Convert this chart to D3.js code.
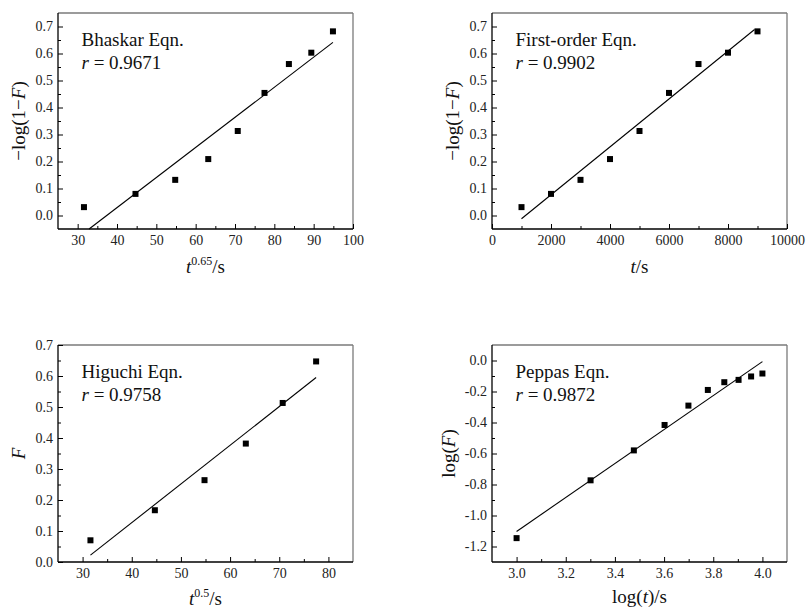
<!DOCTYPE html>
<html>
<head>
<meta charset="utf-8">
<script src="https://cdn.jsdelivr.net/npm/d3@7"></script>
<style>
  html, body { margin: 0; padding: 0; background: #fff; }
  svg, svg text { font-family: "Liberation Serif", "Times New Roman", "DejaVu Serif", serif; }
</style>
</head>
<body>
<svg id="chart" width="806" height="612"></svg>
<script>
// ---------- data ----------
const bhaskarX = [31.6, 44.7, 54.8, 63.2, 70.7, 77.5, 83.7, 89.4, 94.9];
const bhaskarY = [0.031, 0.080, 0.132, 0.209, 0.313, 0.454, 0.561, 0.603, 0.682];
const bhaskarFit = [[32.9, -0.05], [94.9, 0.641]];

const firstX = [1000, 2000, 3000, 4000, 5000, 6000, 7000, 8000, 9000];
const firstY = [0.031, 0.080, 0.132, 0.209, 0.313, 0.454, 0.561, 0.603, 0.682];
const firstFit = [[1000, -0.012], [8900, 0.689]];

const higuchiX = [31.6, 44.7, 54.8, 63.2, 70.7, 77.5];
const higuchiY = [0.070, 0.167, 0.264, 0.382, 0.513, 0.647];
const higuchiFit = [[31.6, 0.022], [77.5, 0.595]];

const peppasX = [3.0, 3.301, 3.477, 3.602, 3.699, 3.778, 3.845, 3.903, 3.954, 4.0];
const peppasY = [-1.146, -0.773, -0.580, -0.416, -0.291, -0.190, -0.140, -0.125, -0.103, -0.084];
const peppasFit = [[3.0, -1.103], [4.0, -0.007]];

const panelNames = ["Bhaskar Eqn.", "First-order Eqn.", "Higuchi Eqn.", "Peppas Eqn."];
const panelR = ["0.9671", "0.9902", "0.9758", "0.9872"];

const ticks1X = [30, 40, 50, 60, 70, 80, 90, 100];
const ticks1Y = [0.0, 0.1, 0.2, 0.3, 0.4, 0.5, 0.6, 0.7];
const ticks2X = [0, 2000, 4000, 6000, 8000, 10000];
const ticks3X = [30, 40, 50, 60, 70, 80];
const ticks3Y = [0.0, 0.1, 0.2, 0.3, 0.4, 0.5, 0.6, 0.7];
const ticks4X = [3.0, 3.2, 3.4, 3.6, 3.8, 4.0];
const ticks4Y = [-1.2, -1.0, -0.8, -0.6, -0.4, -0.2, 0.0];

// ---------- drawing ----------
const FONT = "'Liberation Serif', 'Times New Roman', 'DejaVu Serif', serif";
const svg = d3.select("#chart");

function range(a, b, step) {
  const out = [];
  const n = Math.round((b - a) / step);
  for (let i = 0; i <= n; i++) out.push(+(a + i * step).toFixed(6));
  return out;
}
const fmt1 = v => d3.format(".1f")(v).replace("\u2212", "-");

function panel(cfg) {
  const g = svg.append("g");
  const x = d3.scaleLinear().domain(cfg.xDomain).range([cfg.left, cfg.right]);
  const y = d3.scaleLinear().domain(cfg.yDomain).range([cfg.bottom, cfg.top]);

  // frame: top & right gray
  g.append("line").attr("x1", cfg.left).attr("x2", cfg.right).attr("y1", cfg.top).attr("y2", cfg.top)
    .attr("stroke", "#7a7a7a").attr("stroke-width", 1.3);
  g.append("line").attr("x1", cfg.right).attr("x2", cfg.right).attr("y1", cfg.top).attr("y2", cfg.bottom)
    .attr("stroke", "#7a7a7a").attr("stroke-width", 1.3);

  // minor ticks
  g.append("g").attr("transform", `translate(0,${cfg.bottom})`)
    .call(d3.axisBottom(x).tickValues(cfg.xMinor).tickSize(-3).tickSizeOuter(0).tickFormat(""))
    .call(s => s.select(".domain").remove())
    .selectAll("line").attr("stroke", "#000");
  g.append("g").attr("transform", `translate(${cfg.left},0)`)
    .call(d3.axisLeft(y).tickValues(cfg.yMinor).tickSize(-3).tickSizeOuter(0).tickFormat(""))
    .call(s => s.select(".domain").remove())
    .selectAll("line").attr("stroke", "#000");

  // major axes
  const xa = g.append("g").attr("transform", `translate(0,${cfg.bottom})`)
    .call(d3.axisBottom(x).tickValues(cfg.xTicks).tickSize(-5).tickSizeOuter(0).tickPadding(6)
      .tickFormat(cfg.xFormat));
  xa.attr("font-family", null).attr("font-size", null);
  xa.select(".domain").remove();
  xa.selectAll("line").attr("stroke", "#000");
  xa.selectAll("text").style("font-family", FONT).style("font-size", "14px").attr("fill", "#222");

  const ya = g.append("g").attr("transform", `translate(${cfg.left},0)`)
    .call(d3.axisLeft(y).tickValues(cfg.yTicks).tickSize(-5).tickSizeOuter(0).tickPadding(5)
      .tickFormat(fmt1));
  ya.attr("font-family", null).attr("font-size", null);
  ya.select(".domain").remove();
  ya.selectAll("line").attr("stroke", "#000");
  ya.selectAll("text").style("font-family", FONT).style("font-size", "14px").attr("fill", "#222");

  // left & bottom axis lines (black)
  g.append("line").attr("x1", cfg.left).attr("x2", cfg.left).attr("y1", cfg.top).attr("y2", cfg.bottom)
    .attr("stroke", "#000").attr("stroke-width", 1.3);
  g.append("line").attr("x1", cfg.left).attr("x2", cfg.right).attr("y1", cfg.bottom).attr("y2", cfg.bottom)
    .attr("stroke", "#000").attr("stroke-width", 1.6);

  // fit line
  g.append("path").datum(cfg.fit)
    .attr("d", d3.line().x(d => x(d[0])).y(d => y(d[1])))
    .attr("fill", "none").attr("stroke", "#000").attr("stroke-width", 1.1);

  // points
  const pts = cfg.xs.map((v, i) => [v, cfg.ys[i]]);
  g.selectAll("rect.pt").data(pts).join("rect").attr("class", "pt")
    .attr("x", d => x(d[0]) - 3).attr("y", d => y(d[1]) - 3)
    .attr("width", 6).attr("height", 6).attr("fill", "#000");

  // annotation text
  g.append("text").attr("x", cfg.left + 23.5).attr("y", cfg.top + 32.5)
    .style("font-family", FONT).style("font-size", "19px").attr("fill", "#111").text(cfg.name);
  const rt = g.append("text").attr("x", cfg.left + 23.5).attr("y", cfg.top + 55.5)
    .style("font-family", FONT).style("font-size", "19px").attr("fill", "#111");
  rt.append("tspan").attr("font-style", "italic").text("r");
  rt.append("tspan").text(" = " + cfg.r);

  // x title
  const xt = g.append("text").attr("x", (cfg.left + cfg.right) / 2).attr("y", cfg.xTitleY)
    .attr("text-anchor", "middle").style("font-family", FONT).style("font-size", "19px").attr("fill", "#111");
  cfg.xTitle(xt);

  // y title
  const yt = g.append("text")
    .attr("transform", `translate(${cfg.yTitleX},${(cfg.top + cfg.bottom) / 2}) rotate(-90)`)
    .attr("text-anchor", "middle").style("font-family", FONT).style("font-size", "19px").attr("fill", "#111");
  cfg.yTitle(yt);
}

function negLogTitle(t) {
  t.append("tspan").text("\u2212log(1\u2212");
  t.append("tspan").attr("font-style", "italic").text("F");
  t.append("tspan").text(")");
}
function powTitle(exp) {
  return t => {
    t.append("tspan").attr("font-style", "italic").text("t");
    t.append("tspan").style("font-size", "12px").attr("dy", -8).text(exp);
    t.append("tspan").attr("dy", 8).text("/s");
  };
}

panel({
  left: 58, right: 353, top: 13, bottom: 229,
  xDomain: [25, 100], yDomain: [-0.05, 0.75],
  xTicks: ticks1X, yTicks: ticks1Y,
  xMinor: range(35, 95, 10), yMinor: range(0.05, 0.65, 0.1),
  xFormat: d3.format("d"),
  xs: bhaskarX, ys: bhaskarY, fit: bhaskarFit,
  name: panelNames[0], r: panelR[0],
  xTitleY: 273, yTitleX: 25,
  xTitle: powTitle("0.65"), yTitle: negLogTitle
});

panel({
  left: 492, right: 787, top: 13, bottom: 229,
  xDomain: [0, 10000], yDomain: [-0.05, 0.75],
  xTicks: ticks2X, yTicks: ticks1Y,
  xMinor: range(1000, 9000, 2000), yMinor: range(0.05, 0.65, 0.1),
  xFormat: d3.format("d"),
  xs: firstX, ys: firstY, fit: firstFit,
  name: panelNames[1], r: panelR[1],
  xTitleY: 273, yTitleX: 459,
  xTitle: t => { t.append("tspan").attr("font-style", "italic").text("t"); t.append("tspan").text("/s"); },
  yTitle: negLogTitle
});

panel({
  left: 58, right: 353, top: 345, bottom: 562,
  xDomain: [25, 85], yDomain: [0, 0.7],
  xTicks: ticks3X, yTicks: ticks3Y,
  xMinor: range(35, 75, 10), yMinor: range(0.05, 0.65, 0.1),
  xFormat: d3.format("d"),
  xs: higuchiX, ys: higuchiY, fit: higuchiFit,
  name: panelNames[2], r: panelR[2],
  xTitleY: 605, yTitleX: 25,
  xTitle: powTitle("0.5"),
  yTitle: t => { t.append("tspan").attr("font-style", "italic").text("F"); }
});

panel({
  left: 492, right: 787, top: 345, bottom: 562,
  xDomain: [2.9, 4.1], yDomain: [-1.3, 0.1],
  xTicks: ticks4X, yTicks: ticks4Y,
  xMinor: range(3.1, 3.9, 0.2), yMinor: range(-1.1, -0.1, 0.2),
  xFormat: fmt1,
  xs: peppasX, ys: peppasY, fit: peppasFit,
  name: panelNames[3], r: panelR[3],
  xTitleY: 603, yTitleX: 455,
  xTitle: t => {
    t.append("tspan").text("log(");
    t.append("tspan").attr("font-style", "italic").text("t");
    t.append("tspan").text(")/s");
  },
  yTitle: t => {
    t.append("tspan").text("log(");
    t.append("tspan").attr("font-style", "italic").text("F");
    t.append("tspan").text(")");
  }
});
</script>
</body>
</html>
